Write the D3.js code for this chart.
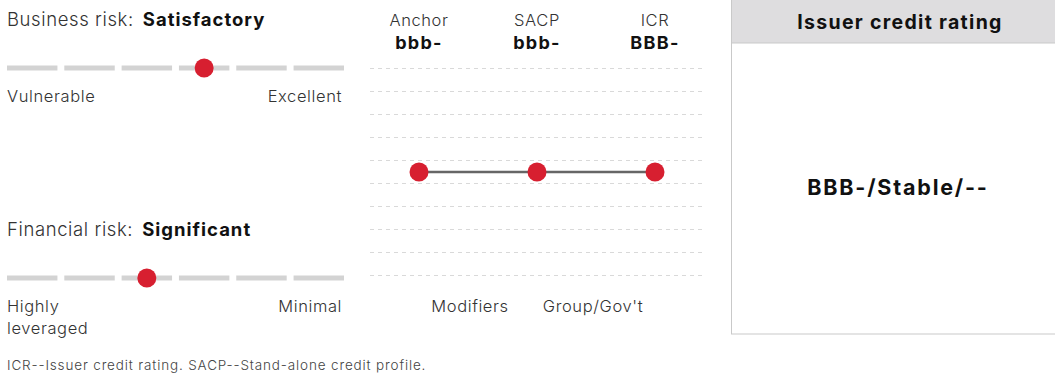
<!DOCTYPE html>
<head>
  <script src="https://d3js.org/d3.v7.min.js"></script>
  <style>
    body { margin: 0; overflow: hidden; background: #fff; }
    text { font-family: Inter, "Noto Sans", sans-serif; }
  </style>
</head>
<body>
  <svg width="1055" height="377"></svg>
  <script>
    const businessLevels = ['Vulnerable', 'Weak', 'Fair', 'Satisfactory', 'Strong', 'Excellent'];
    const businessValue = 'Satisfactory';
    const financialLevels = ['Highly leveraged', 'Aggressive', 'Significant', 'Intermediate', 'Modest', 'Minimal'];
    const financialValue = 'Significant';

    const ratingScale = ['a', 'a-', 'bbb+', 'bbb', 'bbb-', 'bb+', 'bb', 'bb-', 'b+'];
    const steps = ['Anchor', 'SACP', 'ICR'];
    const stepRatings = ['bbb-', 'bbb-', 'bbb-'];
    const stepLabels = ['bbb-', 'bbb-', 'BBB-'];
    const modifierLabels = ['Modifiers', "Group/Gov't"];

    const issuerRating = 'BBB-/Stable/--';
    const footnote = 'ICR--Issuer credit rating. SACP--Stand-alone credit profile.';

    const svg = d3.select('svg');
    const red = '#d71f30';

    // light / bold text helpers (font in the original is wider than Inter)
    const light = (sel, size, ls) => sel.attr('font-size', size).attr('font-weight', 300)
      .attr('fill', '#333').attr('letter-spacing', ls);
    const bold = (sel, size, ls) => sel.attr('font-size', size).attr('font-weight', 700)
      .attr('fill', '#111').attr('letter-spacing', ls);

    // risk sliders
    const riskX = d3.scaleBand().range([7, 344]).paddingInner(0.12).paddingOuter(0);

    function slider(y0, title, value, levels, leftLbl, rightLbl) {
      riskX.domain(levels);
      const g = svg.append('g');
      const t = light(g.append('text').attr('x', 7).attr('y', y0), 18.5, 0.6);
      t.append('tspan').text(title + ':');
      bold(t.append('tspan').attr('dx', 9), 18.5, 1).text(value);

      const ly = y0 + 42;
      g.selectAll('rect.seg').data(levels).enter().append('rect')
        .attr('x', d => riskX(d)).attr('y', ly - 2.5)
        .attr('width', riskX.bandwidth()).attr('height', 5).attr('fill', '#d3d3d3');
      g.append('circle').attr('cx', riskX(value) + riskX.bandwidth() / 2).attr('cy', ly)
        .attr('r', 9.5).attr('fill', red);

      const lt = light(g.append('text').attr('x', 7).attr('y', ly + 34), 16.5, 0.6);
      leftLbl.forEach((w, i) => lt.append('tspan').attr('x', 7).attr('dy', i ? 22 : 0).text(w));
      light(g.append('text').attr('x', 342).attr('y', ly + 34).attr('text-anchor', 'end'), 16.5, 0.6)
        .text(rightLbl);
    }
    slider(26, 'Business risk', businessValue, businessLevels, ['Vulnerable'], 'Excellent');
    slider(236, 'Financial risk', financialValue, financialLevels, ['Highly', 'leveraged'], 'Minimal');

    // rating path
    const x = d3.scalePoint().domain(steps).range([419, 655]);
    const y = d3.scaleBand().domain(ratingScale).range([68.5, 275.5]);

    const grid = ratingScale.map(r => y(r)).concat([y.range()[1]]);
    svg.selectAll('line.grid').data(grid).enter().append('line')
      .attr('x1', 370).attr('x2', 706).attr('y1', d => d).attr('y2', d => d)
      .attr('stroke', '#d9d9d9').attr('stroke-width', 1).attr('stroke-dasharray', '4,4');

    const cy = r => y(r) + y.bandwidth() / 2;
    svg.append('path')
      .datum(steps.map((s, i) => [x(s), cy(stepRatings[i])]))
      .attr('d', d3.line()).attr('stroke', '#666').attr('stroke-width', 2.5).attr('fill', 'none');
    svg.selectAll('circle.pt').data(steps).enter().append('circle')
      .attr('cx', d => x(d)).attr('cy', (d, i) => cy(stepRatings[i])).attr('r', 9.5).attr('fill', red);

    light(svg.selectAll('text.step').data(steps).enter().append('text')
      .attr('x', d => x(d)).attr('y', 26).attr('text-anchor', 'middle'), 16.5, 0.6).text(d => d);
    bold(svg.selectAll('text.stepv').data(stepLabels).enter().append('text')
      .attr('x', (d, i) => x(steps[i])).attr('y', 49).attr('text-anchor', 'middle'), 18, 1.3).text(d => d);

    // modifier labels sit between the steps, nudged a little left
    light(svg.selectAll('text.mod').data(modifierLabels).enter().append('text')
      .attr('x', (d, i) => (x(steps[i]) + x(steps[i + 1])) / 2 - (i ? 3 : 8)).attr('y', 312)
      .attr('text-anchor', 'middle'), 16.5, 0.6).text(d => d);

    // issuer credit rating box
    svg.append('rect').attr('x', 731.5).attr('y', -1).attr('width', 330).attr('height', 335)
      .attr('fill', '#fff').attr('stroke', '#c9c9c9');
    svg.append('rect').attr('x', 731.5).attr('y', -1).attr('width', 330).attr('height', 44)
      .attr('fill', '#dedddf').attr('stroke', '#c9c9c9');
    bold(svg.append('text').attr('x', 900).attr('y', 29).attr('text-anchor', 'middle'), 19.5, 1.3)
      .text('Issuer credit rating');
    bold(svg.append('text').attr('x', 898).attr('y', 195).attr('text-anchor', 'middle'), 21.5, 1.8)
      .text(issuerRating);

    light(svg.append('text').attr('x', 7).attr('y', 370), 13.5, 0.85).attr('fill', '#444').text(footnote);
  </script>
</body>
